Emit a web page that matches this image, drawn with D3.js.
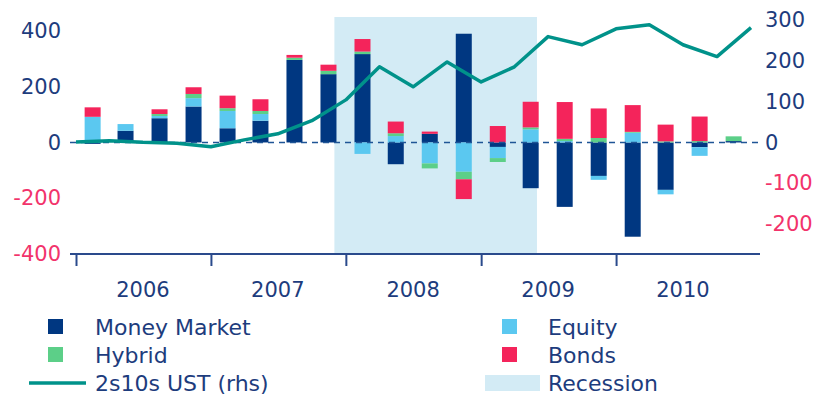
<!DOCTYPE html>
<html>
<head>
<meta charset="utf-8">
<script src="https://cdn.jsdelivr.net/npm/d3@7"></script>
<style>
  body { margin: 0; background: #fff; }
  text { font-family: "DejaVu Sans", sans-serif; }
</style>
</head>
<body>
<div id="chart"></div>
<script>
// quarterly fund flows (lhs) 2006Q1 - 2010Q4
const quarters = [
  "2006Q1", "2006Q2", "2006Q3", "2006Q4",
  "2007Q1", "2007Q2", "2007Q3", "2007Q4",
  "2008Q1", "2008Q2", "2008Q3", "2008Q4",
  "2009Q1", "2009Q2", "2009Q3", "2009Q4",
  "2010Q1", "2010Q2", "2010Q3", "2010Q4",
];
const moneyMarket = [-5, 42, 87, 129, 51, 78, 296, 245, 317, -78, 31, 390, -16, -164, -231, -120, -338, -170, -17, 5];
const equity = [92, 24, 8, 30, 62, 24, 0, 0, -41, 23, -75, -105, -40, 47, 5, -14, 35, -16, -31, 0];
const hybrid = [0, 0, 7, 15, 10, 11, 8, 12, 9, 10, -18, -27, -14, 7, 8, 16, 3, 4, 5, 17];
const bonds = [34, 0, 17, 24, 45, 42, 10, 22, 45, 42, 8, -71, 59, 92, 132, 106, 96, 60, 88, 0];

// 2s10s UST curve (rhs), quarter starts
const curveDates = [
  "2006-01", "2006-04", "2006-07", "2006-10",
  "2007-01", "2007-04", "2007-07", "2007-10",
  "2008-01", "2008-04", "2008-07", "2008-10",
  "2009-01", "2009-04", "2009-07", "2009-10",
  "2010-01", "2010-04", "2010-07", "2010-10", "2011-01",
];
const curve2s10s = [1, 4, 0, -2, -11, 6, 21, 53, 104, 185, 136, 197, 148, 185, 259, 239, 278, 288, 239, 210, 281];

const recession = ["2007-12", "2009-06"];
const years = [2006, 2007, 2008, 2009, 2010];
const leftTicks = [-400, -200, 0, 200, 400];
const rightTicks = [-200, -100, 0, 100, 200, 300];

const seriesKeys = ["Money Market", "Equity", "Hybrid", "Bonds"];
const seriesValues = [moneyMarket, equity, hybrid, bonds];
const colors = {
  "Money Market": "#003781",
  Equity: "#5bc8f0",
  Hybrid: "#5ccf88",
  Bonds: "#f4245b",
};
const navy = "#1d3c7d";
const pink = "#f2336b";
const teal = "#00928a";
const shade = "#d3ebf5";
const tickFont = 21;
const legendFont = 22;

const parseMonth = d3.timeParse("%Y-%m");

const width = 818;
const height = 405;

const svg = d3
  .select("#chart")
  .append("svg")
  .attr("width", width)
  .attr("height", height);

// scales
const x = d3
  .scaleTime()
  .domain([new Date(2006, 0, 1), new Date(2011, 0, 1)])
  .range([76, 751]);
const yLeft = d3.scaleLinear().domain([-400, 450]).range([254, 17]);
const yRight = d3.scaleLinear().domain([-273.5, 307]).range([254, 17]);

const quarterMid = (q) => {
  const yr = +q.slice(0, 4);
  const qi = +q.slice(5) - 1;
  return new Date(yr, qi * 3 + 1, 15);
};

// recession band
svg
  .append("rect")
  .attr("x", x(parseMonth(recession[0])))
  .attr("y", yLeft.range()[1])
  .attr("width", x(parseMonth(recession[1])) - x(parseMonth(recession[0])))
  .attr("height", yLeft.range()[0] - yLeft.range()[1])
  .attr("fill", shade);

// stacked bars
const rows = quarters.map((q, i) => {
  const row = { q: q };
  seriesKeys.forEach((k, j) => (row[k] = seriesValues[j][i]));
  return row;
});
const stacked = d3
  .stack()
  .keys(seriesKeys)
  .offset(d3.stackOffsetDiverging)(rows);

const barWidth = 16;
svg
  .append("g")
  .selectAll("g")
  .data(stacked)
  .join("g")
  .attr("fill", (d) => colors[d.key])
  .selectAll("rect")
  .data((d) => d)
  .join("rect")
  .attr("x", (d) => x(quarterMid(d.data.q)) - barWidth / 2)
  .attr("y", (d) => yLeft(Math.max(d[0], d[1])))
  .attr("width", barWidth)
  .attr("height", (d) => Math.abs(yLeft(d[0]) - yLeft(d[1])));

// zero line
svg
  .append("line")
  .attr("x1", 70)
  .attr("x2", 758)
  .attr("y1", yLeft(0))
  .attr("y2", yLeft(0))
  .attr("stroke", "#1f5596")
  .attr("stroke-width", 1.5)
  .attr("stroke-dasharray", "6,5");

// 2s10s line
const line = d3
  .line()
  .x((d) => x(d.date))
  .y((d) => yRight(d.value));
svg
  .append("path")
  .datum(curveDates.map((d, i) => ({ date: parseMonth(d), value: curve2s10s[i] })))
  .attr("d", line)
  .attr("fill", "none")
  .attr("stroke", teal)
  .attr("stroke-width", 3.5)
  .attr("stroke-linejoin", "round");

// x axis
const xAxis = svg
  .append("g")
  .attr("transform", `translate(0,${yLeft.range()[0]})`)
  .call(
    d3
      .axisBottom(x)
      .tickValues(years.map((y) => new Date(y, 0, 1)))
      .tickSize(12)
      .tickFormat("")
  );
xAxis.select(".domain").remove();
xAxis.selectAll(".tick line").attr("stroke", "#2a4a8c").attr("stroke-width", 2);
xAxis
  .append("line")
  .attr("x1", 70)
  .attr("x2", 760)
  .attr("stroke", "#2a4a8c")
  .attr("stroke-width", 2);

svg
  .append("g")
  .selectAll("text")
  .data(years)
  .join("text")
  .attr("x", (d) => x(new Date(d, 6, 1)))
  .attr("y", 297)
  .attr("text-anchor", "middle")
  .attr("font-size", tickFont)
  .attr("fill", navy)
  .text((d) => d);

// left axis
const leftAxis = svg
  .append("g")
  .attr("transform", "translate(61,0)")
  .call(
    d3
      .axisLeft(yLeft)
      .tickValues(leftTicks)
      .tickSize(0)
      .tickPadding(0)
      .tickFormat((d) => String(d))
  );
leftAxis.select(".domain").remove();
leftAxis
  .selectAll("text")
  .attr("font-size", tickFont)
  .attr("font-family", '"DejaVu Sans", sans-serif')
  .attr("fill", (d) => (d < 0 ? pink : navy));

// right axis
const rightAxis = svg
  .append("g")
  .attr("transform", "translate(765,0)")
  .call(
    d3
      .axisRight(yRight)
      .tickValues(rightTicks)
      .tickSize(0)
      .tickPadding(0)
      .tickFormat((d) => String(d))
  );
rightAxis.select(".domain").remove();
rightAxis
  .selectAll("text")
  .attr("font-size", tickFont)
  .attr("font-family", '"DejaVu Sans", sans-serif')
  .attr("fill", (d) => (d < 0 ? pink : navy));

// legend
const legendItems = [
  { label: "Money Market", type: "box", color: colors["Money Market"], col: 0, row: 0 },
  { label: "Equity", type: "box", color: colors.Equity, col: 1, row: 0 },
  { label: "Hybrid", type: "box", color: colors.Hybrid, col: 0, row: 1 },
  { label: "Bonds", type: "box", color: colors.Bonds, col: 1, row: 1 },
  { label: "2s10s UST (rhs)", type: "line", color: teal, col: 0, row: 2 },
  { label: "Recession", type: "band", color: shade, col: 1, row: 2 },
];
const colX = [48, 502];
const textX = [95, 548];
const rowY = [327, 355, 383];

const legend = svg
  .append("g")
  .selectAll("g")
  .data(legendItems)
  .join("g");

legend.each(function (d) {
  const g = d3.select(this);
  const cy = rowY[d.row];
  if (d.type == "box") {
    g.append("rect")
      .attr("x", colX[d.col])
      .attr("y", cy - 8)
      .attr("width", 15)
      .attr("height", 15)
      .attr("fill", d.color);
  } else if (d.type == "line") {
    g.append("line")
      .attr("x1", 29)
      .attr("x2", 86)
      .attr("y1", cy)
      .attr("y2", cy)
      .attr("stroke", d.color)
      .attr("stroke-width", 3.5);
  } else {
    g.append("rect")
      .attr("x", 485)
      .attr("y", cy - 8)
      .attr("width", 55)
      .attr("height", 16)
      .attr("fill", d.color);
  }
  g.append("text")
    .attr("x", textX[d.col])
    .attr("y", cy)
    .attr("dy", "0.35em")
    .attr("font-size", legendFont)
    .attr("fill", navy)
    .text(d.label);
});
</script>
</body>
</html>
